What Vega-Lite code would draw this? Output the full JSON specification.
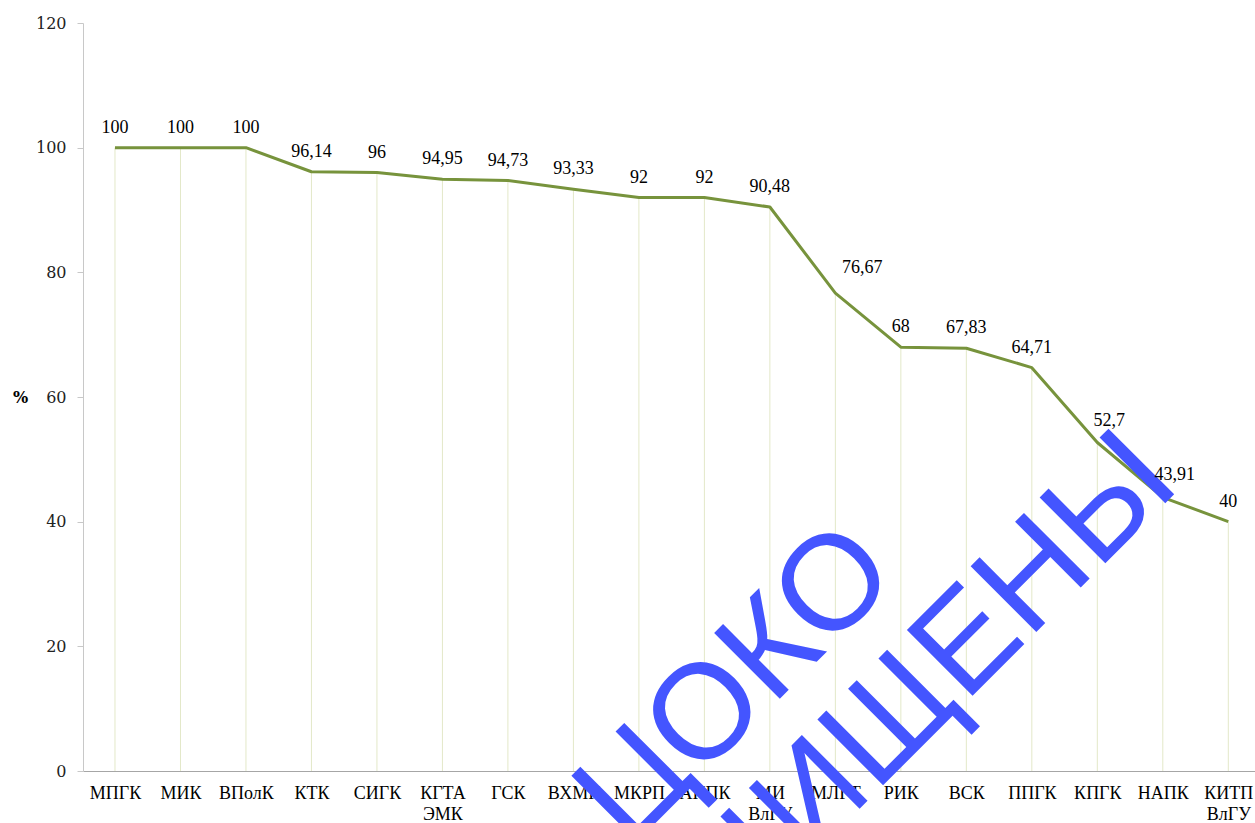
{
  "$schema": "https://vega.github.io/schema/vega-lite/v6.json",
  "autosize": {"type": "none"},
  "width": 1172,
  "height": 748,
  "padding": {"left": 83, "top": 23, "right": 0, "bottom": 52},
  "background": "#ffffff",
  "config": {
    "view": {"stroke": null},
    "locale": {"number": {"decimal": ",", "thousands": " ", "grouping": [3], "currency": ["", ""]}}
  },
  "datasets": {
    "main": [
      {"org": "МПГК", "value": 100},
      {"org": "МИК", "value": 100},
      {"org": "ВПолК", "value": 100},
      {"org": "КТК", "value": 96.14},
      {"org": "СИГК", "value": 96},
      {"org": "КГТА ЭМК", "value": 94.95},
      {"org": "ГСК", "value": 94.73},
      {"org": "ВХМК", "value": 93.33},
      {"org": "МКРП", "value": 92},
      {"org": "АППК", "value": 92},
      {"org": "МИ ВлГУ", "value": 90.48},
      {"org": "МЛГТ", "value": 76.67},
      {"org": "РИК", "value": 68},
      {"org": "ВСК", "value": 67.83},
      {"org": "ППГК", "value": 64.71},
      {"org": "КПГК", "value": 52.7},
      {"org": "НАПК", "value": 43.91},
      {"org": "КИТП ВлГУ", "value": 40}
    ],
    "wm1": [{"org": "РИК", "value": 31.0, "text": "ЦОКО"}],
    "wm2": [{"org": "НАПК", "value": 42.6, "text": "ЗАЩИЩЕНЫ"}]
  },
  "encoding": {
    "x": {
      "field": "org",
      "type": "nominal",
      "sort": null,
      "scale": {
        "type": "point",
        "padding": 0.448,
        "align": 0.545,
        "domain": ["МПГК", "МИК", "ВПолК", "КТК", "СИГК", "КГТА ЭМК", "ГСК", "ВХМК", "МКРП", "АППК", "МИ ВлГУ", "МЛГТ", "РИК", "ВСК", "ППГК", "КПГК", "НАПК", "КИТП ВлГУ"]
      },
      "axis": {
        "title": null,
        "labelAngle": 0,
        "ticks": false,
        "grid": false,
        "domainColor": "#a6a6a6",
        "domainWidth": 1,
        "labelFont": "Liberation Serif",
        "labelFontSize": 18,
        "labelColor": "#000000",
        "labelPadding": 13,
        "labelOverlap": false,
        "labelLimit": 200,
        "labelLineHeight": 21,
        "labelExpr": "split(datum.label, ' ')"
      }
    },
    "y": {
      "field": "value",
      "type": "quantitative",
      "scale": {"domain": [0, 120], "nice": false},
      "axis": {
        "title": "%",
        "titleAngle": 0,
        "titleFont": "DejaVu Serif",
        "titleFontSize": 16,
        "titleFontWeight": "bold",
        "titleColor": "#000000",
        "titleAlign": "center",
        "titleBaseline": "middle",
        "titleX": -63,
        "titleY": 374,
        "values": [0, 20, 40, 60, 80, 100, 120],
        "grid": false,
        "tickSize": 6,
        "tickColor": "#c8c8c8",
        "domainColor": "#c8c8c8",
        "labelFont": "DejaVu Serif",
        "labelFontSize": 16,
        "labelColor": "#222222",
        "labelPadding": 11
      }
    }
  },
  "layer": [
    {
      "data": {"name": "main"},
      "mark": {"type": "rule", "color": "#e3e8c8", "strokeWidth": 1},
      "encoding": {"y2": {"datum": 0}}
    },
    {
      "data": {"name": "main"},
      "mark": {"type": "line", "color": "#77933c", "strokeWidth": 3, "interpolate": "linear", "strokeJoin": "round"}
    },
    {
      "data": {"name": "wm1"},
      "mark": {"type": "text", "font": "Liberation Sans", "fontSize": 135, "color": "#4455ff", "angle": -45, "align": "right", "baseline": "alphabetic"},
      "encoding": {"text": {"field": "text"}}
    },
    {
      "data": {"name": "wm2"},
      "mark": {"type": "text", "font": "Liberation Sans", "fontSize": 135, "color": "#4455ff", "angle": -45, "align": "right", "baseline": "alphabetic", "dx": 27},
      "encoding": {"text": {"field": "text"}}
    },
    {
      "data": {"name": "main"},
      "transform": [{"filter": "datum.org != 'МЛГТ' && datum.org != 'КПГК' && datum.org != 'НАПК'"}],
      "mark": {"type": "text", "font": "Liberation Serif", "fontSize": 18, "color": "#000000", "baseline": "alphabetic", "dy": -15},
      "encoding": {"text": {"field": "value", "type": "quantitative", "format": ".2~f"}}
    },
    {
      "data": {"name": "main"},
      "transform": [{"filter": "datum.org == 'МЛГТ'"}],
      "mark": {"type": "text", "font": "Liberation Serif", "fontSize": 18, "color": "#000000", "baseline": "alphabetic", "dy": -20, "dx": 27},
      "encoding": {"text": {"field": "value", "type": "quantitative", "format": ".2~f"}}
    },
    {
      "data": {"name": "main"},
      "transform": [{"filter": "datum.org == 'КПГК' || datum.org == 'НАПК'"}],
      "mark": {"type": "text", "font": "Liberation Serif", "fontSize": 18, "color": "#000000", "baseline": "alphabetic", "dy": -17, "dx": 12},
      "encoding": {"text": {"field": "value", "type": "quantitative", "format": ".2~f"}}
    }
  ]
}
